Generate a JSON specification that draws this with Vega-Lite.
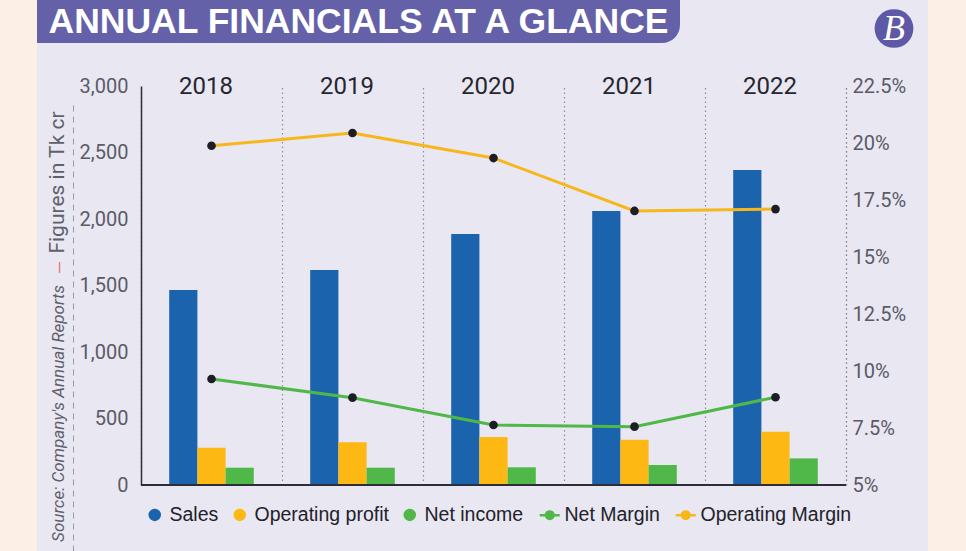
{
  "$schema": "https://vega.github.io/schema/vega-lite/v6.json",
  "padding": 0,
  "background": "#e8e7f2",
  "bounds": "flush",
  "spacing": 86,
  "config": {"view": {"stroke": null}, "font": "Roboto"},
  "datasets": {
    "bars": [
      {"year": "2018", "series": "Sales", "value": 1466},
      {"year": "2018", "series": "Operating profit", "value": 280},
      {"year": "2018", "series": "Net income", "value": 130},
      {"year": "2019", "series": "Sales", "value": 1617},
      {"year": "2019", "series": "Operating profit", "value": 321},
      {"year": "2019", "series": "Net income", "value": 130},
      {"year": "2020", "series": "Sales", "value": 1887},
      {"year": "2020", "series": "Operating profit", "value": 361},
      {"year": "2020", "series": "Net income", "value": 133},
      {"year": "2021", "series": "Sales", "value": 2060},
      {"year": "2021", "series": "Operating profit", "value": 341},
      {"year": "2021", "series": "Net income", "value": 150},
      {"year": "2022", "series": "Sales", "value": 2368},
      {"year": "2022", "series": "Operating profit", "value": 401},
      {"year": "2022", "series": "Net income", "value": 200}
    ],
    "margins": [
      {"year": "2018", "series": "Net Margin", "value": 9.65},
      {"year": "2019", "series": "Net Margin", "value": 8.83},
      {"year": "2020", "series": "Net Margin", "value": 7.63},
      {"year": "2021", "series": "Net Margin", "value": 7.56},
      {"year": "2022", "series": "Net Margin", "value": 8.85},
      {"year": "2018", "series": "Operating Margin", "value": 19.88},
      {"year": "2019", "series": "Operating Margin", "value": 20.44},
      {"year": "2020", "series": "Operating Margin", "value": 19.34},
      {"year": "2021", "series": "Operating Margin", "value": 17.02},
      {"year": "2022", "series": "Operating Margin", "value": 17.1}
    ]
  },
  "vconcat": [
    {
      "spacing": 0,
      "bounds": "flush",
      "hconcat": [
        {"width": 37, "height": 86, "data": {"values": [{}]}, "mark": {"type": "rect", "color": "#fcf0e6"}},
        {
          "width": 643, "height": 43,
          "data": {"values": [{"t": "ANNUAL FINANCIALS AT A GLANCE"}]},
          "layer": [
            {"mark": {"type": "rect", "color": "#6461a9", "cornerRadiusBottomRight": 18}},
            {"mark": {"type": "text", "font": "Liberation Sans", "fontWeight": "bold", "fontSize": 35.5, "color": "#ffffff", "align": "center", "baseline": "middle"},
             "encoding": {"text": {"field": "t"}}}
          ]
        },
        {"width": 192, "height": 86, "data": {"values": [{}]}, "mark": {"type": "point", "opacity": 0}},
        {
          "width": 44, "height": 57,
          "data": {"values": [{"t": "B"}]},
          "layer": [
            {"mark": {"type": "point", "filled": true, "size": 1500, "color": "#5d59a6", "opacity": 1}},
            {"mark": {"type": "text", "font": "Liberation Serif", "fontStyle": "italic", "fontSize": 36, "color": "#ffffff", "align": "center", "baseline": "middle"},
             "encoding": {"text": {"field": "t"}}}
          ]
        },
        {"width": 12, "height": 86, "data": {"values": [{}]}, "mark": {"type": "point", "opacity": 0}},
        {"width": 38, "height": 86, "data": {"values": [{}]}, "mark": {"type": "rect", "color": "#fcf0e6"}}
      ]
    },
    {
      "spacing": 0,
      "bounds": "flush",
      "hconcat": [
        {"width": 37, "height": 465, "data": {"values": [{}]}, "mark": {"type": "rect", "color": "#fcf0e6"}},
        {
          "width": 36, "height": 465,
          "data": {"values": [{"v": 0}]},
          "mark": {"type": "point", "opacity": 0},
          "encoding": {"y": {"field": "v", "type": "quantitative", "axis": {"orient": "left", "domain": false, "ticks": false, "tickSize": 0, "labels": false, "grid": false, "title": "—", "titleColor": "#e9737c", "titleFont": "Roboto", "titleFontSize": 17, "titleFontWeight": "normal", "titleAngle": -90, "titleX": 23, "titleY": 181, "titleAlign": "center", "titleBaseline": "middle"}}}
        },
        {
          "width": 68, "height": 465,
          "data": {"values": [{"v": 0}]},
          "mark": {"type": "point", "opacity": 0},
          "encoding": {"y": {"field": "v", "type": "quantitative", "scale": {"range": [465, 16]}, "axis": {"orient": "left", "domain": true, "domainColor": "#9a99a6", "domainDash": [6, 5], "domainWidth": 1, "ticks": false, "tickSize": 0, "labels": false, "grid": false, "title": "Source: Company's Annual Reports", "titleColor": "#5f5f6a", "titleFont": "Roboto", "titleFontStyle": "italic", "titleFontSize": 17, "titleFontWeight": "normal", "titleAngle": -90, "titleX": -10, "titleY": 327, "titleAlign": "center", "titleBaseline": "alphabetic"}}}
        },
        {
          "width": 705, "height": 399,
          "layer": [
            {
              "data": {"name": "bars"},
              "layer": [
                {
                  "mark": {"type": "bar"},
                  "encoding": {
                    "x": {"field": "year", "type": "ordinal", "scale": {"paddingInner": 0, "paddingOuter": 0},
                      "axis": {"orient": "top", "tickBand": "extent", "grid": true, "gridColor": "#8d8c99", "gridDash": [1.5, 3], "gridWidth": 1.2, "domain": false, "ticks": false, "tickSize": 0, "labelPadding": 0, "labelBaseline": "middle", "labelFont": "Roboto", "labelFontSize": 24, "labelColor": "#26262e", "labelOffset": -6, "labelAngle": 0, "title": null}},
                    "xOffset": {"field": "series", "type": "nominal", "sort": ["Sales", "Operating profit", "Net income"], "scale": {"paddingInner": 0, "paddingOuter": 1}},
                    "y": {"field": "value", "type": "quantitative", "scale": {"domain": [0, 3000], "nice": false},
                      "axis": {"orient": "left", "values": [0, 500, 1000, 1500, 2000, 2500, 3000], "format": ",.0f", "labelFont": "Roboto", "labelFontSize": 20, "labelColor": "#5b5b66", "labelPadding": 13, "ticks": false, "tickSize": 0, "domain": true, "domainColor": "#2e2e38", "domainWidth": 1.5, "grid": false, "title": "Figures in Tk cr", "titleFont": "Roboto", "titleFontSize": 21, "titleFontWeight": "normal", "titleColor": "#60606b", "titleX": -78, "titleY": 96, "titleAngle": -90, "titleAlign": "center", "titleBaseline": "alphabetic"}},
                    "color": {"field": "series", "type": "nominal",
                      "scale": {"domain": ["Sales", "Operating profit", "Net income", "Net Margin", "Operating Margin"], "range": ["#1c63ae", "#fdb813", "#50b848", "#50b848", "#f7b71b"]},
                      "legend": {"orient": "none", "legendX": 145, "legendY": 505, "direction": "horizontal", "title": null, "labelFont": "Liberation Sans", "labelFontSize": 19.5, "labelColor": "#222228", "symbolSize": 100, "symbolOpacity": 1, "symbolStrokeWidth": 2.5, "columnPadding": 10, "labelOffset": 5,
                        "encode": {"symbols": {"update": {
                          "fill": {"signal": "datum.value === 'Operating profit' ? '#fdb813' : datum.value === 'Net income' ? '#50b848' : '#1d1d26'"},
                          "stroke": {"signal": "datum.value === 'Net Margin' ? '#50b848' : datum.value === 'Operating Margin' ? '#f7b71b' : 'transparent'"},
                          "strokeWidth": {"value": 2.5},
                          "opacity": {"value": 1},
                          "fillOpacity": {"value": 1},
                          "shape": {"signal": "datum.value === 'Net Margin' || datum.value === 'Operating Margin' ? 'M-2,0L-0.75,0M0.75,0L2,0M-0.75,0A0.75,0.75,0,1,1,0.75,0A0.75,0.75,0,1,1,-0.75,0Z' : 'circle'"}
                        }}}}}
                  }
                },
                {"mark": {"type": "rule", "color": "#2e2e38", "strokeWidth": 1.5},
                 "encoding": {"y": {"datum": 0, "type": "quantitative",
                   "axis": {"orient": "left", "values": [0, 500, 1000, 1500, 2000, 2500, 3000], "format": ",.0f", "labelFont": "Roboto", "labelFontSize": 20, "labelColor": "#5b5b66", "labelPadding": 13, "ticks": false, "tickSize": 0, "domain": true, "domainColor": "#2e2e38", "domainWidth": 1.5, "grid": false, "title": "Figures in Tk cr", "titleFont": "Roboto", "titleFontSize": 21, "titleFontWeight": "normal", "titleColor": "#60606b", "titleX": -78, "titleY": 96, "titleAngle": -90, "titleAlign": "center", "titleBaseline": "alphabetic"}}}}
              ]
            },
            {
              "data": {"name": "margins"},
              "encoding": {
                "x": {"field": "year", "type": "ordinal",
                  "axis": {"orient": "top", "tickBand": "extent", "grid": true, "gridColor": "#8d8c99", "gridDash": [1.5, 3], "gridWidth": 1.2, "domain": false, "ticks": false, "tickSize": 0, "labelPadding": 0, "labelBaseline": "middle", "labelFont": "Roboto", "labelFontSize": 24, "labelColor": "#26262e", "labelOffset": -6, "labelAngle": 0, "title": null}},
                "y": {"field": "value", "type": "quantitative", "scale": {"domain": [5, 22.5], "nice": false, "zero": false},
                  "axis": {"orient": "right", "values": [5, 7.5, 10, 12.5, 15, 17.5, 20, 22.5], "labelExpr": "datum.value + '%'", "labelFont": "Roboto", "labelFontSize": 20, "labelColor": "#5b5b66", "labelPadding": 6, "ticks": false, "tickSize": 0, "domain": true, "domainColor": "#8d8c99", "domainDash": [1.5, 3], "domainWidth": 1.2, "grid": false, "title": null}}
              },
              "layer": [
                {"mark": {"type": "line", "strokeWidth": 3}, "encoding": {"color": {"field": "series", "type": "nominal"}}},
                {"mark": {"type": "point", "filled": true, "color": "#1d1d26", "size": 75, "opacity": 1}}
              ]
            }
          ],
          "resolve": {"scale": {"y": "independent"}}
        },
        {"width": 82, "height": 465, "data": {"values": [{}]}, "mark": {"type": "point", "opacity": 0}},
        {"width": 38, "height": 465, "data": {"values": [{}]}, "mark": {"type": "rect", "color": "#fcf0e6"}}
      ]
    }
  ]
}
